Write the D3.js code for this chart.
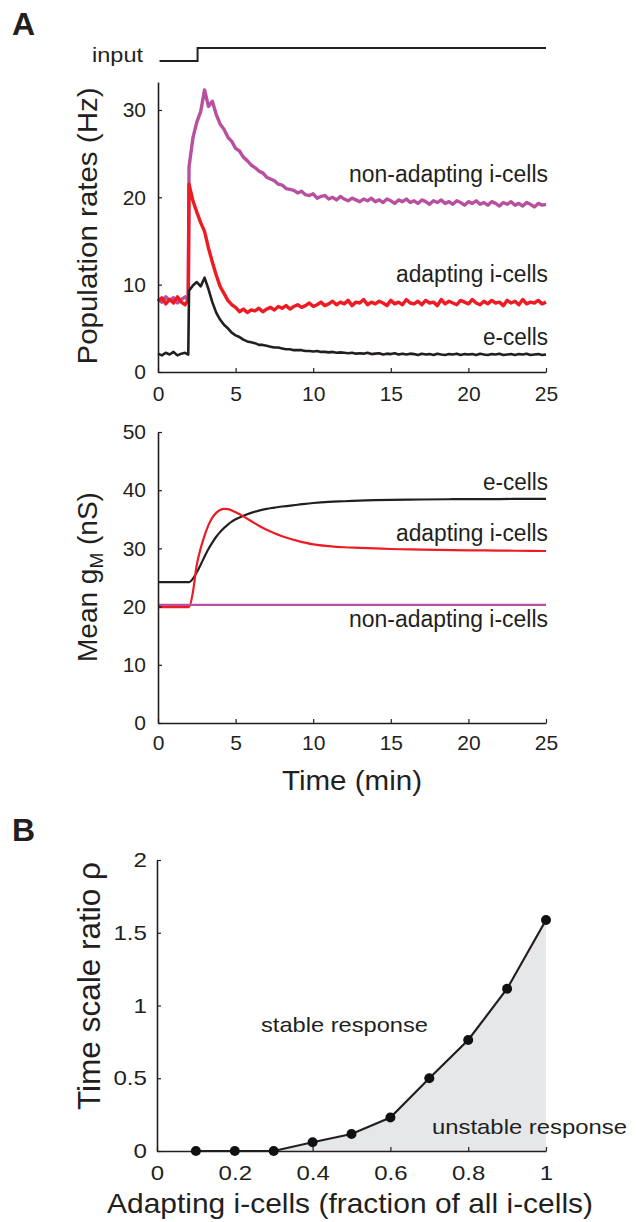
<!DOCTYPE html>
<html>
<head>
<meta charset="utf-8">
<script src="https://cdn.jsdelivr.net/npm/d3@7"></script>
<style>
body { margin: 0; background: #fff; }
text { font-family: "Liberation Sans", Arial, Helvetica, sans-serif; fill: #231f20; }
</style>
</head>
<body>
<svg id="svg" width="638" height="1222"></svg>
<script>

// ---------- panel A (top): population rates, Hz ----------
var rateTimes = [0,0.25,0.5,0.75,1,1.25,1.5,1.75,1.95,
  2,2.25,2.5,2.75, 3,3.25,3.5,3.75, 4,4.25,4.5,4.75, 5,5.25,5.5,5.75,
  6,6.25,6.5,6.75, 7,7.25,7.5,7.75, 8,8.25,8.5,8.75, 9,9.25,9.5,9.75,
  10,10.25,10.5,10.75, 11,11.25,11.5,11.75, 12,12.25,12.5,12.75, 13,13.25,13.5,13.75,
  14,14.25,14.5,14.75, 15,15.25,15.5,15.75, 16,16.25,16.5,16.75, 17,17.25,17.5,17.75,
  18,18.25,18.5,18.75, 19,19.25,19.5,19.75, 20,20.25,20.5,20.75, 21,21.25,21.5,21.75,
  22,22.25,22.5,22.75, 23,23.25,23.5,23.75, 24,24.25,24.5,24.75, 25]

var rateNonAdapt = [8.4,8.0,8.6,8.2,8.5,7.9,8.3,8.6,8.2,
  23.5,26.8,28.6,29.8, 32.3,30.4,31.0,29.5, 28.4,27.8,26.9,26.4, 25.6,25.3,24.6,24.2,
  23.7,23.4,23.0,22.8, 22.3,22.1,21.9,21.5, 21.4,21.0,20.9,20.8, 20.5,20.7,20.3,20.2,
  20.4,19.9,20.1,20.2, 19.8,20.0,19.7,20.1, 19.8,19.6,19.9,19.7, 19.5,19.8,19.6,19.9,
  19.5,19.7,19.4,19.8, 19.6,19.3,19.7,19.5, 19.8,19.4,19.6,19.3, 19.7,19.5,19.2,19.6,
  19.4,19.7,19.3,19.5, 19.2,19.6,19.4,19.1, 19.5,19.3,19.6,19.2, 19.4,19.1,19.5,19.3,
  19.0,19.4,19.2,19.5, 19.1,19.3,19.0,19.4, 19.2,18.9,19.3,19.1, 19.2]

var rateAdapt = [8.1,8.5,7.8,8.3,7.9,8.6,8.0,7.7,8.3,
  21.5,19.6,18.3,17.1, 16.1,14.2,12.6,11.1, 9.8,9.0,8.2,7.7, 7.4,6.9,7.2,6.8,
  7.1,7.0,7.3,6.9, 7.2,7.4,7.1,7.5, 7.3,7.6,7.2,7.5, 7.7,7.4,7.6,7.9,
  7.5,7.7,8.0,7.6, 7.8,8.1,7.7,8.0, 7.8,8.2,7.6,8.0, 7.9,8.3,7.7,8.0,
  7.8,8.1,7.9,7.6, 8.2,7.8,8.0,7.7, 8.3,7.9,7.8,8.1, 7.7,8.2,7.9,8.0,
  7.6,8.3,7.8,8.1, 7.9,7.7,8.2,8.0, 7.8,8.3,7.9,7.7, 8.1,7.8,8.2,7.9,
  8.0,7.6,8.2,7.9, 8.1,7.7,8.3,7.8, 8.0,7.9,8.2,7.8, 8.0]

var rateE = [2.1,1.9,2.2,2.0,2.3,1.9,2.1,2.2,2.0,
  9.3,9.9,10.3,9.8, 10.8,9.5,8.0,6.8, 6.0,5.4,5.0,4.5, 4.2,4.0,3.7,3.5,
  3.4,3.3,3.1,3.1, 3.0,2.9,2.8,2.8, 2.7,2.6,2.6,2.5, 2.5,2.5,2.4,2.4,
  2.35,2.4,2.3,2.3, 2.25,2.3,2.2,2.25, 2.2,2.15,2.2,2.1, 2.15,2.1,2.2,2.05,
  2.1,2.15,2.0,2.1, 2.05,2.15,2.0,2.1, 2.0,2.1,2.05,1.95, 2.1,2.0,2.05,1.95,
  2.1,2.0,1.95,2.05, 2.0,2.1,1.95,2.05, 2.0,2.05,1.95,2.1, 2.0,1.95,2.05,2.0,
  2.1,1.95,2.0,2.05, 1.95,2.05,2.0,2.1, 1.95,2.0,2.05,1.95, 2.0]

var inputTimes = [0.1, 2.55, 2.55, 25]
var inputLevel = [0, 0, 1, 1]

// ---------- panel A (bottom): mean gM, nS ----------
var gTimes = [0,2,2.25,2.5,2.75,3,3.25,3.5,3.75,4,4.25,4.5,4.75,5,5.5,6,6.5,7,7.5,8,9,10,11,12,13,14,15,17,19,21,23,25]
var gE = [24.2,24.2,24.8,25.9,27.2,28.6,29.9,31.0,32.0,32.8,33.5,34.1,34.6,35.0,35.6,36.1,36.5,36.8,37.0,37.2,37.5,37.8,38.0,38.1,38.2,38.3,38.35,38.4,38.45,38.45,38.5,38.5]
var gAdapt = [19.9,19.9,22.5,27.2,30.0,32.2,34.0,35.3,36.1,36.6,36.8,36.75,36.5,36.2,35.5,34.7,33.9,33.2,32.6,32.1,31.3,30.7,30.4,30.2,30.1,30.0,29.9,29.8,29.7,29.65,29.6,29.55]
var gNonAdapt = [20.3,20.3,20.3,20.3,20.3,20.3,20.3,20.3,20.3,20.3,20.3,20.3,20.3,20.3,20.3,20.3,20.3,20.3,20.3,20.3,20.3,20.3,20.3,20.3,20.3,20.3,20.3,20.3,20.3,20.3,20.3,20.3]

// ---------- panel B ----------
var fraction = [0.1,0.2,0.3,0.4,0.5,0.6,0.7,0.8,0.9,1.0]
var rho = [0,0,0,0.06,0.117,0.23,0.50,0.763,1.115,1.588]

var timeTicks = [0,5,10,15,20,25]
var rateTicks = [0,10,20,30]
var gTicks = [0,10,20,30,40,50]
var fracTicks = [0,0.2,0.4,0.6,0.8,1]
var rhoTicks = [0,0.5,1,1.5,2]

var colNon = "#b8509f", colAd = "#ed1c24", colE = "#231f20"

const svg = d3.select("#svg")

function styleAxis(g, size){
  g.select(".domain").attr("stroke", "#231f20").attr("stroke-width", 1.6)
  g.selectAll(".tick line").attr("stroke", "#231f20").attr("stroke-width", 1.2)
  g.selectAll("text").attr("font-size", size).attr("font-family", null).style("fill", "#231f20")
  g.attr("font-family", null)
}

function label(x, y, str, size, anchor, len){
  var t = svg.append("text").attr("x", x).attr("y", y).attr("font-size", size)
    .attr("text-anchor", anchor || "start").text(str)
  if (len) t.attr("textLength", len).attr("lengthAdjust", "spacingAndGlyphs")
  return t
}

// panel letters
svg.append("text").attr("x", 12).attr("y", 35).attr("font-size", 32).attr("font-weight", "bold").text("A")
svg.append("text").attr("x", 12).attr("y", 841).attr("font-size", 32).attr("font-weight", "bold").text("B")

// ===== rates =====
var x1 = d3.scaleLinear().domain([0, 25]).range([158, 546])
var y1 = d3.scaleLinear().domain([0, 33.2]).range([372, 82])
var yIn = d3.scaleLinear().domain([0, 1]).range([61, 48])

var inLine = d3.line().x((d, i) => x1(inputTimes[i])).y(d => yIn(d))
svg.append("path").attr("d", inLine(inputLevel)).attr("fill", "none").attr("stroke", "#231f20").attr("stroke-width", 2)
label(143, 62, "input", 20, "end", 51)

var rateLine = d3.line().x((d, i) => x1(rateTimes[i])).y(d => y1(d))
svg.append("path").attr("d", rateLine(rateNonAdapt)).attr("fill", "none").attr("stroke", colNon).attr("stroke-width", 3.4).attr("stroke-linejoin", "round")
svg.append("path").attr("d", rateLine(rateAdapt)).attr("fill", "none").attr("stroke", colAd).attr("stroke-width", 3.4).attr("stroke-linejoin", "round")
svg.append("path").attr("d", rateLine(rateE)).attr("fill", "none").attr("stroke", colE).attr("stroke-width", 2.6).attr("stroke-linejoin", "round")

var ax1 = svg.append("g").attr("transform", "translate(0,372)")
  .call(d3.axisBottom(x1).tickValues(timeTicks).tickSizeInner(-4).tickSizeOuter(0).tickPadding(14))
styleAxis(ax1, 21)
var ay1 = svg.append("g").attr("transform", "translate(158,0)")
  .call(d3.axisLeft(y1).tickValues(rateTicks).tickSizeInner(-4).tickSizeOuter(0).tickPadding(12))
styleAxis(ay1, 21)

svg.append("text").attr("transform", "translate(97,226) rotate(-90)").attr("text-anchor", "middle")
  .attr("font-size", 28).attr("textLength", 277).attr("lengthAdjust", "spacingAndGlyphs").text("Population rates (Hz)")

label(548, 182, "non-adapting i-cells", 23, "end", 199)
label(548, 282, "adapting i-cells", 23, "end", 152)
label(548, 345, "e-cells", 23, "end", 65)

// ===== mean gM =====
var y2 = d3.scaleLinear().domain([0, 50]).range([723, 432])
var gLine = d3.line().x((d, i) => x1(gTimes[i])).y(d => y2(d)).curve(d3.curveMonotoneX)
svg.append("path").attr("d", gLine(gE)).attr("fill", "none").attr("stroke", colE).attr("stroke-width", 2.2)
svg.append("path").attr("d", gLine(gAdapt)).attr("fill", "none").attr("stroke", colAd).attr("stroke-width", 2.2)
svg.append("path").attr("d", gLine(gNonAdapt)).attr("fill", "none").attr("stroke", colNon).attr("stroke-width", 2.2)

var ax2 = svg.append("g").attr("transform", "translate(0,723)")
  .call(d3.axisBottom(x1).tickValues(timeTicks).tickSizeInner(-4).tickSizeOuter(0).tickPadding(12))
styleAxis(ax2, 21)
var ay2 = svg.append("g").attr("transform", "translate(158,0)")
  .call(d3.axisLeft(y2).tickValues(gTicks).tickSizeInner(-4).tickSizeOuter(0).tickPadding(12))
styleAxis(ay2, 21)

var gl = svg.append("text").attr("transform", "translate(97,577) rotate(-90)").attr("text-anchor", "middle").attr("font-size", 28)
gl.append("tspan").text("Mean g")
gl.append("tspan").attr("font-size", 19).attr("dy", 6).text("M")
gl.append("tspan").attr("dy", -6).text(" (nS)")

label(352, 790, "Time (min)", 28, "middle", 140)

label(548, 490, "e-cells", 23, "end", 65)
label(548, 541, "adapting i-cells", 23, "end", 152)
label(548, 627, "non-adapting i-cells", 23, "end", 199)

// ===== panel B =====
var x3 = d3.scaleLinear().domain([0, 1]).range([157, 546])
var y3 = d3.scaleLinear().domain([0, 2]).range([1151, 860])

var pts = fraction.map((f, i) => [f, rho[i]])
var area = d3.area().x(d => x3(d[0])).y0(y3(0)).y1(d => y3(d[1]))
svg.append("path").attr("d", area(pts.filter(d => d[0] >= 0.3))).attr("fill", "#e6e7e8")

var ax3 = svg.append("g").attr("transform", "translate(0,1151)")
  .call(d3.axisBottom(x3).tickValues(fracTicks).tickFormat(d3.format("")).tickSizeInner(-4).tickSizeOuter(0).tickPadding(15))
styleAxis(ax3, 20)
var ay3 = svg.append("g").attr("transform", "translate(157,0)")
  .call(d3.axisLeft(y3).tickValues(rhoTicks).tickFormat(d3.format("")).tickSizeInner(-4).tickSizeOuter(0).tickPadding(10))
styleAxis(ay3, 21)
ax3.selectAll("text").attr("textLength", function(){ return this.getComputedTextLength() * 1.2 }).attr("lengthAdjust", "spacingAndGlyphs")
ay3.selectAll("text").attr("textLength", function(){ return this.getComputedTextLength() * 1.15 }).attr("lengthAdjust", "spacingAndGlyphs")

var bLine = d3.line().x(d => x3(d[0])).y(d => y3(d[1]))
svg.append("path").attr("d", bLine(pts)).attr("fill", "none").attr("stroke", "#231f20").attr("stroke-width", 2.2)
svg.append("g").selectAll("circle").data(pts).enter().append("circle")
  .attr("cx", d => x3(d[0])).attr("cy", d => y3(d[1])).attr("r", 5).attr("fill", "#111")

label(261, 1032, "stable response", 21, "start", 167)
label(627, 1134, "unstable response", 21, "end", 195)

svg.append("text").attr("transform", "translate(100,986) rotate(-90)").attr("text-anchor", "middle")
  .attr("font-size", 31).attr("textLength", 248).attr("lengthAdjust", "spacingAndGlyphs").text("Time scale ratio ρ")
label(350, 1213, "Adapting i-cells (fraction of all i-cells)", 28, "middle", 486)

</script>
</body>
</html>
